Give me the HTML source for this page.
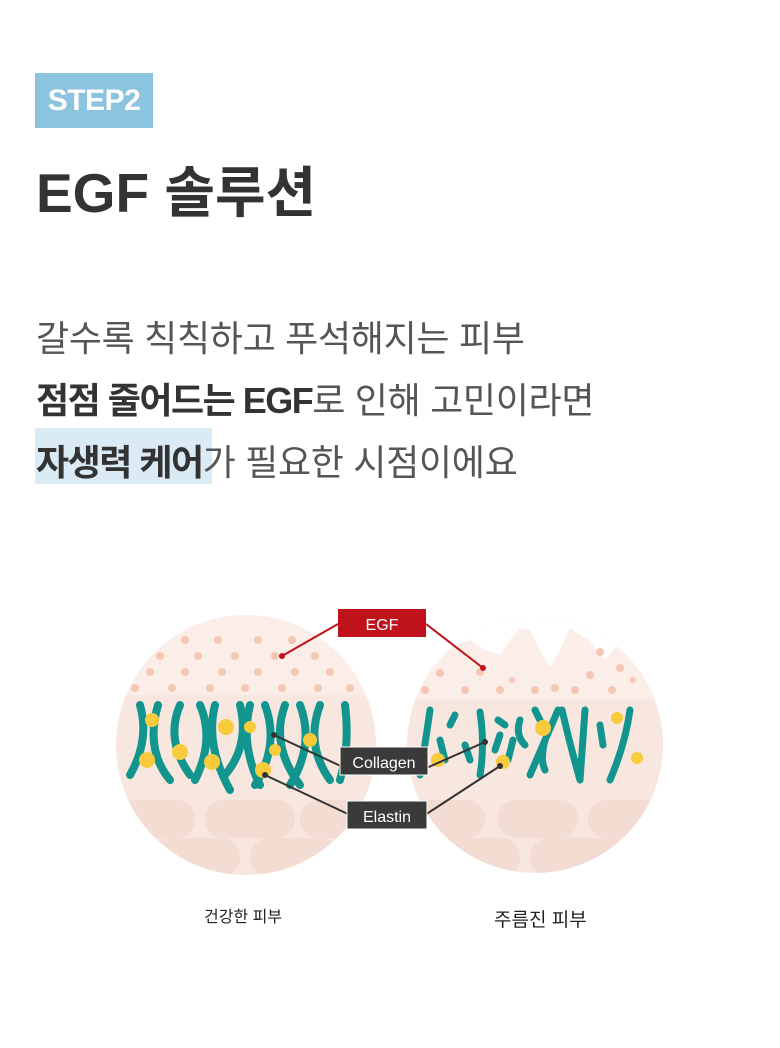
<!DOCTYPE html>
<html><head><meta charset="utf-8"><style>
body{margin:0;width:780px;height:1048px;background:#fff;position:relative;overflow:hidden;font-family:"Liberation Sans","Noto Sans CJK KR",sans-serif;color:#333}
.step{position:absolute;left:35px;top:73px;width:118px;height:55px;background:#8cc3de;color:#fff;font-weight:bold;font-size:30px;line-height:55px;text-align:center;letter-spacing:-0.5px}
h1{position:absolute;left:36px;top:148px;margin:0;font-size:55px;font-weight:bold;letter-spacing:0;color:#333}
.p{position:absolute;left:36px;font-size:36px;color:#555;letter-spacing:-0.3px;white-space:nowrap}
.hl{position:absolute;left:35px;top:428px;width:177px;height:56px;background:#dbebf6}
.cap{position:absolute;font-size:17px;color:#222}
</style></head><body>
<div class="step">STEP2</div>
<h1>EGF 솔루션</h1>
<div class="p" style="top:310px">갈수록 칙칙하고 푸석해지는 피부</div>
<div class="p" style="top:372px"><b style="color:#333;letter-spacing:-1.5px">점점 줄어드는 EGF</b>로 인해 고민이라면</div>
<div class="hl"></div>
<div class="p" style="top:434px"><b style="color:#333;letter-spacing:-1.5px">자생력 케어</b>가 필요한 시점이에요</div>
<svg style="position:absolute;left:0;top:0" width="780" height="1048">
<defs>
<clipPath id="cl"><circle cx="246" cy="745" r="130"/></clipPath>
<clipPath id="cr"><circle cx="535" cy="745" r="128"/></clipPath>
</defs>
<g clip-path="url(#cl)">
<rect x="110" y="610" width="280" height="270" fill="#f8e7df"/>
<rect x="110" y="610" width="280" height="85" fill="#fbeee8"/>
<g fill="#f6c6b4">
<circle cx="185" cy="640" r="4"/><circle cx="218" cy="640" r="4"/><circle cx="258" cy="640" r="4"/><circle cx="292" cy="640" r="4"/>
<circle cx="160" cy="656" r="4"/><circle cx="198" cy="656" r="4"/><circle cx="235" cy="656" r="4"/><circle cx="275" cy="656" r="4"/><circle cx="315" cy="656" r="4"/>
<circle cx="150" cy="672" r="4"/><circle cx="185" cy="672" r="4"/><circle cx="222" cy="672" r="4"/><circle cx="258" cy="672" r="4"/><circle cx="295" cy="672" r="4"/><circle cx="330" cy="672" r="4"/>
<circle cx="135" cy="688" r="4"/><circle cx="172" cy="688" r="4"/><circle cx="210" cy="688" r="4"/><circle cx="245" cy="688" r="4"/><circle cx="282" cy="688" r="4"/><circle cx="318" cy="688" r="4"/><circle cx="350" cy="688" r="4"/>
</g>
<g fill="#f3ddd3"><rect x="110" y="800" width="85" height="38" rx="18"/><rect x="205" y="800" width="90" height="38" rx="18"/><rect x="300" y="800" width="80" height="38" rx="18"/><rect x="150" y="838" width="90" height="38" rx="18"/><rect x="250" y="838" width="90" height="38" rx="18"/></g>
<g stroke="#13958f" stroke-width="8" fill="none" stroke-linecap="round">
<path d="M140 705 Q150 740 130 775"/><path d="M158 705 Q145 750 170 780"/><path d="M180 705 Q165 740 190 775"/><path d="M200 705 Q215 740 195 780"/><path d="M215 705 Q205 745 230 790"/><path d="M240 705 Q250 745 225 775"/><path d="M250 705 Q240 745 260 785"/><path d="M265 705 Q280 745 255 785"/><path d="M285 705 Q270 745 300 785"/><path d="M300 705 Q315 745 290 785"/><path d="M320 705 Q305 745 330 780"/><path d="M345 705 Q350 745 340 780"/>
</g>
<g fill="#f8cb3c"><circle cx="152" cy="720" r="7"/><circle cx="147" cy="760" r="8"/><circle cx="180" cy="752" r="8"/><circle cx="212" cy="762" r="8"/><circle cx="226" cy="727" r="8"/><circle cx="263" cy="770" r="8"/><circle cx="275" cy="750" r="6"/><circle cx="310" cy="740" r="7"/><circle cx="250" cy="727" r="6"/></g>
</g>
<g clip-path="url(#cr)">
<rect x="400" y="610" width="270" height="270" fill="#f8e7df"/>
<path d="M400 610 H670 V700 H400 Z" fill="#fbeee8"/>
<path d="M400 610 H670 V645 L650 640 L632 628 L622 640 L605 660 L588 640 L570 628 L560 650 L550 668 L540 650 L530 630 L520 628 L510 640 L500 655 L485 650 L470 640 L455 645 L400 650 Z" fill="#fff"/>
<g fill="#f6c6b4">
<circle cx="440" cy="673" r="4"/><circle cx="480" cy="672" r="4"/><circle cx="512" cy="680" r="3"/><circle cx="555" cy="688" r="4"/><circle cx="590" cy="675" r="4"/><circle cx="600" cy="652" r="4"/><circle cx="620" cy="668" r="4"/><circle cx="425" cy="690" r="4"/><circle cx="465" cy="690" r="4"/><circle cx="500" cy="690" r="4"/><circle cx="535" cy="690" r="4"/><circle cx="575" cy="690" r="4"/><circle cx="612" cy="690" r="4"/><circle cx="633" cy="680" r="3"/>
</g>
<g fill="#f3ddd3"><rect x="400" y="800" width="85" height="38" rx="18"/><rect x="498" y="800" width="80" height="38" rx="18"/><rect x="588" y="800" width="80" height="38" rx="18"/><rect x="430" y="838" width="90" height="38" rx="18"/><rect x="530" y="838" width="100" height="38" rx="18"/></g>
<g stroke="#13958f" stroke-width="7" fill="none" stroke-linecap="round">
<path d="M430 710 Q425 745 420 775"/><path d="M440 740 L445 760"/><path d="M455 715 L450 725"/><path d="M465 745 L470 760"/><path d="M480 712 Q485 745 480 775"/><path d="M500 735 L495 750"/><path d="M498 720 L505 725"/><path d="M513 740 L508 760"/><path d="M520 720 Q515 735 525 745"/><path d="M535 710 L540 720"/><path d="M545 740 Q540 760 545 770"/><path d="M558 710 Q545 740 530 775"/><path d="M562 710 Q570 745 580 780"/><path d="M585 710 L580 780"/><path d="M600 725 L603 745"/><path d="M630 710 Q625 745 610 780"/>
</g>
<g fill="#f8cb3c"><circle cx="543" cy="728" r="8"/><circle cx="617" cy="718" r="6"/><circle cx="637" cy="758" r="6"/><circle cx="503" cy="762" r="7"/><circle cx="438" cy="760" r="7"/></g>
</g>
<g stroke="#c0121b" stroke-width="2" fill="none"><path d="M282 656 L338 624"/><path d="M426 624 L483 668"/></g>
<g fill="#c0121b"><circle cx="282" cy="656" r="3"/><circle cx="483" cy="668" r="3"/></g>
<rect x="338" y="609" width="88" height="28" fill="#c0121b"/>
<text x="382" y="630" fill="#fff" font-size="16" text-anchor="middle" font-family="Liberation Sans">EGF</text>
<g stroke="#333" stroke-width="2" fill="none"><path d="M274 735 L345 768"/><path d="M265 775 L350 815"/><path d="M422 770 L485 742"/><path d="M425 815 L500 766"/></g>
<g fill="#333"><circle cx="274" cy="735" r="3"/><circle cx="265" cy="775" r="3"/><circle cx="485" cy="742" r="3"/><circle cx="500" cy="766" r="3"/></g>
<rect x="340" y="747" width="88" height="28" fill="#3a3a3a" stroke="#fff"/>
<text x="384" y="768" fill="#fff" font-size="16" text-anchor="middle" font-family="Liberation Sans">Collagen</text>
<rect x="347" y="801" width="80" height="28" fill="#3a3a3a" stroke="#fff"/>
<text x="387" y="822" fill="#fff" font-size="16" text-anchor="middle" font-family="Liberation Sans">Elastin</text>
</svg>
<div class="cap" style="left:204px;top:903px;font-size:16px">건강한 피부</div>
<div class="cap" style="left:494px;top:905px;font-size:19px">주름진 피부</div>
</body></html>
